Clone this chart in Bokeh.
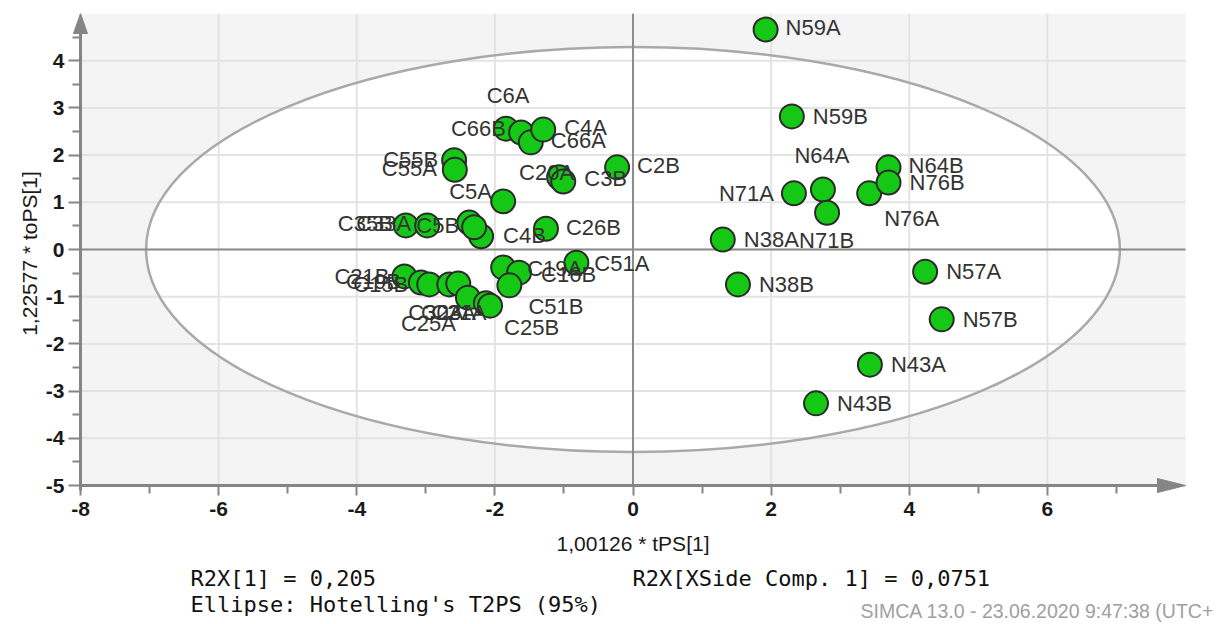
from bokeh.plotting import figure
from bokeh.models import ColumnDataSource, FixedTicker, Label, Range1d
from bokeh.layouts import column
from bokeh.core.properties import value
from bokeh.embed import file_html
from bokeh.resources import INLINE

# ---------------- data ----------------
names = ["N59A", "N59B", "N64A", "N71A", "N71B", "N76A", "N64B", "N76B",
         "N38A", "N38B", "N57A", "N57B", "N43A", "N43B",
         "C2B", "C20A", "C3B", "C66B", "C6A", "C66A", "C4A", "C55B", "C55A",
         "C5A", "C26B", "C4B", "C5B", "C6B", "C35B", "C33A",
         "C21B", "C19B", "C15B", "C30A", "C21A", "C23A", "C25A", "C25B",
         "C19A", "C16B", "C51B", "C51A"]
t_ps = [1.92, 2.30, 2.75, 2.33, 2.81, 3.42, 3.70, 3.70,
        1.30, 1.52, 4.23, 4.47, 3.43, 2.65,
        -0.23, -1.07, -1.01, -1.84, -1.62, -1.48, -1.30, -2.59, -2.58,
        -1.88, -1.26, -2.20, -2.37, -2.30, -3.29, -2.98,
        -3.31, -3.07, -2.95, -2.66, -2.53, -2.39, -2.13, -2.07,
        -1.88, -1.65, -1.79, -0.82]
to_ps = [4.66, 2.82, 1.27, 1.19, 0.78, 1.19, 1.74, 1.42,
         0.21, -0.74, -0.47, -1.48, -2.44, -3.26,
         1.74, 1.53, 1.44, 2.56, 2.48, 2.27, 2.54, 1.89, 1.69,
         1.02, 0.44, 0.28, 0.57, 0.47, 0.51, 0.51,
         -0.57, -0.70, -0.74, -0.74, -0.72, -1.02, -1.14, -1.19,
         -0.38, -0.49, -0.76, -0.28]

x_ticks = [-8, -6, -4, -2, 0, 2, 4, 6]
x_minor = [-7, -5, -3, -1, 1, 3, 5, 7]
y_ticks = [-5, -4, -3, -2, -1, 0, 1, 2, 3, 4]
y_minor = [-4.5, -3.5, -2.5, -1.5, -0.5, 0.5, 1.5, 2.5, 3.5, 4.5]
x_title = "1,00126 * tPS[1]"
y_title = "1,22577 * toPS[1]"
footer_left = ["R2X[1] = 0,205", "Ellipse: Hotelling's T2PS (95%)"]
footer_right = "R2X[XSide Comp. 1] = 0,0751"
stamp = "SIMCA 13.0 - 23.06.2020 9:47:38 (UTC+"
ellipse_semi_axes = (7.05, 4.29)   # Hotelling's T2 95% limits

# ---------------- label layout (pixel offsets, align) ----------------
default_off = (21, 0, "left")
label_layout = {
    "N59A": (20, -2, "left"), "N64A": (-1, -34, "center"),
    "N71A": (-20, 0, "right"), "N71B": (-28, 28, "left"),
    "N76A": (15, 25, "left"), "N64B": (20, -2, "left"),
    "C2B": (20, -2, "left"), "C20A": (-40, -5, "left"),
    "C3B": (21, -3, "left"), "C66B": (-55, 0, "left"),
    "C6A": (-13, -37, "center"), "C66A": (20, -2, "left"),
    "C4A": (21, -2, "left"), "C55B": (-71, -1, "left"),
    "C55A": (-73, -1, "left"), "C5A": (-54, -10, "left"),
    "C26B": (20, -1, "left"), "C4B": (22, -1, "left"),
    "C5B": (-53, 3, "left"), "C35B": (-68, -2, "left"),
    "C33A": (-71, -2, "left"),
    "C21B": (-70, 0, "left"), "C19B": (-75, -1, "left"),
    "C15B": (-76, 0, "left"), "C30A": (-41, 28, "left"),
    "C21A": (-27, 29, "left"), "C23A": (-47, 15, "left"),
    "C25A": (-85, 20, "left"), "C25B": (14, 22, "left"),
    "C19A": (24, 1, "left"), "C16B": (22, 2, "left"),
    "C51B": (19, 21, "left"), "C51A": (18, 1, "left"),
}
hidden_labels = {"C6B"}

# ---------------- geometry ----------------
XMIN, XMAX, YMIN, YMAX = -8, 8, -5, 5
W = 1219
H1, H2 = 532, 92
FRAME_L, AXIS_R, FRAME_T, AXIS_B = 72, 1185, 13, 485
GAP = 8                                  # axis line sits GAP px inside frame
pxx = (AXIS_R - FRAME_L - GAP) / (XMAX - XMIN)
pxy = (AXIS_B - FRAME_T) / (YMAX - YMIN)

p = figure(width=W, height=H1,
           x_range=Range1d(XMIN - GAP / pxx, XMAX + (W - AXIS_R) / pxx),
           y_range=Range1d(YMIN - GAP / pxy, YMAX),
           output_backend="svg", toolbar_location=None,
           min_border_left=FRAME_L, min_border_right=0,
           min_border_top=FRAME_T, min_border_bottom=H1 - AXIS_B - GAP)
p.outline_line_color = None
p.background_fill_color = "white"
p.border_fill_color = "white"
p.xgrid.visible = False
p.ygrid.visible = False

AX = "#858585"
TXT = "#1a1a1a"
for ax in (p.xaxis[0], p.yaxis[0]):
    ax.axis_line_color = None
    ax.major_tick_line_color = AX
    ax.minor_tick_line_color = AX
    ax.major_tick_line_width = 2
    ax.minor_tick_line_width = 2
    ax.major_label_text_font = "Liberation Sans"
    ax.major_label_text_font_style = "bold"
    ax.major_label_text_font_size = "21px"
    ax.major_label_text_color = TXT
    ax.axis_label_text_font = "Liberation Sans"
    ax.axis_label_text_font_style = "normal"
    ax.axis_label_text_font_size = "21px"
    ax.axis_label_text_color = TXT

p.xaxis.ticker = FixedTicker(ticks=x_ticks, minor_ticks=x_minor)
p.yaxis.ticker = FixedTicker(ticks=y_ticks, minor_ticks=y_minor)
p.xaxis.major_label_overrides = {t: str(t) for t in x_ticks}
p.yaxis.major_label_overrides = {t: str(t) for t in y_ticks}
p.xaxis.major_tick_in = GAP
p.xaxis.major_tick_out = 2
p.xaxis.minor_tick_in = GAP
p.xaxis.minor_tick_out = 0
p.yaxis.major_tick_in = GAP
p.yaxis.major_tick_out = 4
p.yaxis.minor_tick_in = GAP
p.yaxis.minor_tick_out = 0
p.xaxis.major_label_standoff = 6
p.yaxis.major_label_standoff = 4
p.yaxis.axis_label = y_title
p.yaxis.axis_label_standoff = 2

# plot-area background
p.quad(left=[XMIN], right=[XMAX], bottom=[YMIN], top=[YMAX],
       fill_color="#f4f4f4", line_color=None)
# Hotelling ellipse fill
p.ellipse(x=[0], y=[0], width=[2 * ellipse_semi_axes[0]],
          height=[2 * ellipse_semi_axes[1]], fill_color="white",
          line_color=None)
# grid lines
p.segment(x0=x_ticks, y0=[YMIN] * len(x_ticks), x1=x_ticks,
          y1=[YMAX] * len(x_ticks), line_color="#e3e3e3", line_width=2)
p.segment(x0=[XMIN] * len(y_ticks), y0=y_ticks, x1=[XMAX] * len(y_ticks),
          y1=y_ticks, line_color="#e3e3e3", line_width=2)
# ellipse outline
p.ellipse(x=[0], y=[0], width=[2 * ellipse_semi_axes[0]],
          height=[2 * ellipse_semi_axes[1]], fill_color=None,
          line_color="#a9a9a9", line_width=2.5)
# zero lines
p.segment(x0=[0, XMIN], y0=[YMIN, 0], x1=[0, XMAX], y1=[YMAX, 0],
          line_color="#8c8c8c", line_width=2)
# axis lines with arrow heads
ax_len_x, ax_half_x = 28 / pxx, 7 / pxy
ax_len_y, ax_half_y = 20 / pxy, 7 / pxx
p.segment(x0=[XMIN, XMIN], y0=[YMIN, YMIN - 5 / pxy],
          x1=[XMAX - ax_len_x, XMIN], y1=[YMIN, YMAX - ax_len_y],
          line_color=AX, line_width=3)
p.patch(x=[XMAX, XMAX - ax_len_x, XMAX - ax_len_x],
        y=[YMIN, YMIN + ax_half_x, YMIN - ax_half_x],
        fill_color=AX, line_color=AX, line_width=1)
p.patch(x=[XMIN, XMIN - ax_half_y, XMIN + ax_half_y],
        y=[YMAX, YMAX - ax_len_y, YMAX - ax_len_y],
        fill_color=AX, line_color=AX, line_width=1)

# points
src = ColumnDataSource(dict(x=t_ps, y=to_ps, name=names))
p.scatter("x", "y", source=src, size=24, fill_color="#16c816",
          line_color="#2b2b2b", line_width=2)

# labels
lx, ly, lt, ldx, ldy, lal = [], [], [], [], [], []
for n, xv, yv in zip(names, t_ps, to_ps):
    if n in hidden_labels:
        continue
    dx, dy, al = label_layout.get(n, default_off)
    lx.append(xv); ly.append(yv); lt.append(n)
    ldx.append(dx); ldy.append(dy); lal.append(al)
lsrc = ColumnDataSource(dict(x=lx, y=ly, text=lt, dx=ldx, dy=ldy, al=lal))
p.text("x", "y", text="text", source=lsrc, x_offset="dx", y_offset="dy",
       text_align="al", text_baseline="middle",
       text_font=value("Liberation Sans"), text_font_size="22px",
       text_color="#333333")

# ---------------- footer strip (frame aligned with the plot's frame) ------
f = figure(width=W, height=H2, x_range=Range1d(0, 1), y_range=Range1d(0, 1),
           output_backend="svg", toolbar_location=None,
           x_axis_location=None, y_axis_location=None, min_border=0,
           min_border_left=FRAME_L, min_border_right=0)
f.outline_line_color = None
f.xgrid.visible = False
f.ygrid.visible = False
mono = "DejaVu Sans Mono"
def footer_text(px, py, txt, font, size, color, align="left"):
    f.add_layout(Label(x=px - FRAME_L, y=H2 - (py - H1), x_units="screen",
                       y_units="screen", text=txt, text_font=font,
                       text_font_size=size, text_baseline="middle",
                       text_align=align, text_color=color))
# x-axis title, centred under x = 0
footer_text(FRAME_L + GAP + (0 - XMIN) * pxx, 543, x_title,
            "Liberation Sans", "21px", TXT, align="center")
footer_text(190, 578, footer_left[0], mono, "22px", "#111111")
footer_text(190, 604, footer_left[1], mono, "22px", "#111111")
footer_text(632, 578, footer_right, mono, "22px", "#111111")
footer_text(860, 610, stamp, "Liberation Sans", "19.5px", "#a0a0a0")

open("out.html", "w").write(file_html(column(p, f, spacing=0), INLINE))
